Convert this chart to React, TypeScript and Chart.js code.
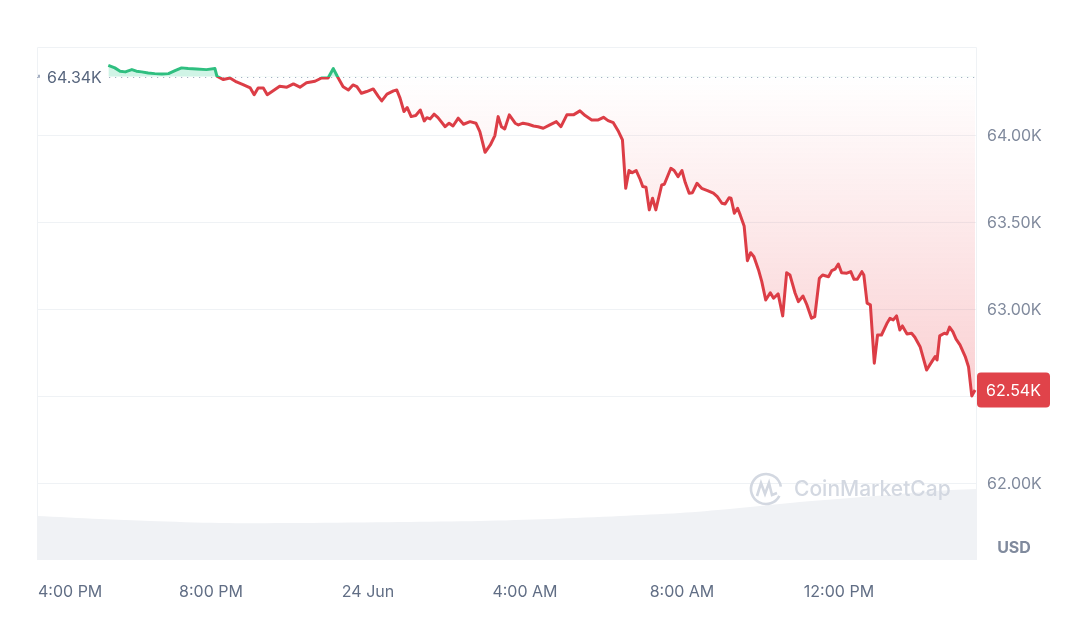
import React, { useEffect, useRef } from "react";
import { Chart, registerables } from "chart.js";

Chart.register(...registerables);

// time = minutes since 23 Jun 00:00 (local); price in USD
const TIMES = [
  1043, 1053, 1061, 1069, 1079, 1086, 1094, 1104, 1114, 1125, 1135, 1145, 1155, 1165, 1178, 1193, 1206, 1209,
  1219, 1229, 1239, 1249, 1260, 1266, 1272, 1280, 1286, 1295, 1305, 1316, 1326, 1336, 1346, 1359, 1369, 1379,
  1387, 1393, 1402, 1410, 1417, 1423, 1430, 1438, 1448, 1456, 1461, 1469, 1479, 1484, 1489, 1495, 1500, 1506,
  1513, 1520, 1526, 1530, 1535, 1541, 1547, 1558, 1564, 1570, 1578, 1586, 1596, 1605, 1611, 1619, 1627, 1634,
  1639, 1644, 1649, 1656, 1665, 1670, 1677, 1685, 1693, 1700, 1708, 1718, 1728, 1735, 1744, 1754, 1764, 1772,
  1782, 1792, 1800, 1807, 1815, 1823, 1829, 1834, 1839, 1844, 1850, 1856, 1860, 1865, 1870, 1875, 1880, 1889,
  1893, 1903, 1908, 1914, 1920, 1925, 1931, 1936, 1943, 1950, 1959, 1968, 1974, 1981, 1986, 1992, 1995, 2000,
  2005, 2009, 2015, 2020, 2025, 2030, 2037, 2042, 2048, 2055, 2060, 2067, 2074, 2080, 2085, 2093, 2098, 2105,
  2111, 2118, 2123, 2130, 2135, 2144, 2149, 2154, 2159, 2164, 2172, 2178, 2183, 2188, 2195, 2198, 2203, 2208,
  2214, 2219, 2225, 2233, 2238, 2243, 2248, 2253, 2257, 2264, 2271, 2276, 2284, 2294, 2302, 2307, 2310, 2314,
  2321, 2325, 2329, 2334, 2339, 2345, 2353, 2358, 2363, 2368,
];

const PRICES = [
  64406, 64391, 64372, 64368, 64381, 64372, 64368, 64362, 64358, 64356, 64358, 64375, 64391, 64387, 64385, 64381, 64387, 64343,
  64324, 64333, 64310, 64295, 64276, 64237, 64276, 64276, 64237, 64260, 64286, 64280, 64299, 64280, 64305, 64314, 64333, 64333,
  64387, 64343, 64283, 64264, 64293, 64283, 64245, 64255, 64270, 64226, 64201, 64240, 64259, 64264, 64217, 64140, 64163, 64111,
  64117, 64149, 64086, 64105, 64098, 64125, 64105, 64053, 64073, 64057, 64102, 64067, 64082, 64073, 64025, 63906, 63948, 64002,
  64111, 64053, 64040, 64121, 64073, 64063, 64073, 64067, 64057, 64053, 64044, 64063, 64082, 64053, 64121, 64121, 64144, 64117,
  64092, 64092, 64107, 64088, 64076, 64025, 63977, 63699, 63801, 63789, 63801, 63751, 63709, 63705, 63575, 63642, 63575, 63718,
  63722, 63814, 63801, 63766, 63801, 63732, 63671, 63674, 63728, 63699, 63686, 63671, 63651, 63613, 63609, 63645, 63642, 63556,
  63584, 63546, 63483, 63283, 63329, 63306, 63230, 63163, 63057, 63099, 63067, 63092, 62966, 63214, 63201, 63096, 63048, 63080,
  63029, 62952, 62962, 63182, 63201, 63191, 63226, 63234, 63264, 63214, 63211, 63220, 63176, 63176, 63220, 63201, 63039, 63029,
  62694, 62856, 62856, 62920, 62952, 62943, 62966, 62885, 62908, 62862, 62866, 62843, 62789, 62655, 62703, 62732, 62713, 62851,
  62866, 62862, 62901, 62875, 62832, 62799, 62732, 62674, 62506, 62540,
];

const VOLUME_TIMES = [934, 1030, 1107, 1214, 1336, 1489, 1611, 1718, 1825, 1917, 1993, 2039, 2100, 2177, 2253, 2330, 2371];
const VOLUMES = [1100, 1025, 975, 925, 925, 950, 975, 1025, 1100, 1175, 1275, 1350, 1450, 1550, 1650, 1750, 1775];

const BASELINE = 64340;
const LAST_PRICE = 62540;
const X_TICKS = [960, 1200, 1440, 1680, 1920, 2160];
const X_TICK_LABELS = ["4:00 PM", "8:00 PM", "24 Jun", "4:00 AM", "8:00 AM", "12:00 PM"];
const Y_TICKS = [62000, 62500, 63000, 63500, 64000];

const X_MIN = 934;
const X_MAX = 2371;
const Y_MIN = 61563;
const Y_MAX = 64511;
const VOL_MAX = 12825;

const GREEN = "#2fbf80";
const RED = "#dc3d46";
const FONT = "Inter, 'Noto Sans', sans-serif";

function yPix(area: any, v: number) {
  return area.top + ((Y_MAX - v) / (Y_MAX - Y_MIN)) * (area.bottom - area.top);
}

function fmtK(v: number) {
  return (v / 1000).toFixed(2) + "K";
}

function roundRect(ctx: CanvasRenderingContext2D, x: number, y: number, w: number, h: number, r: number) {
  ctx.beginPath();
  ctx.moveTo(x + r, y);
  ctx.lineTo(x + w - r, y);
  ctx.quadraticCurveTo(x + w, y, x + w, y + r);
  ctx.lineTo(x + w, y + h - r);
  ctx.quadraticCurveTo(x + w, y + h, x + w - r, y + h);
  ctx.lineTo(x + r, y + h);
  ctx.quadraticCurveTo(x, y + h, x, y + h - r);
  ctx.lineTo(x, y + r);
  ctx.quadraticCurveTo(x, y, x + r, y);
  ctx.closePath();
}

const overlayPlugin = {
  id: "overlay",
  beforeDatasetsDraw(chart: any) {
    const { ctx, chartArea: a, scales } = chart;
    ctx.save();
    ctx.strokeStyle = "#eff2f5";
    ctx.lineWidth = 1;
    ctx.beginPath();
    ctx.moveTo(a.left + 0.5, a.bottom);
    ctx.lineTo(a.left + 0.5, a.top + 0.5);
    ctx.lineTo(a.right - 0.5, a.top + 0.5);
    ctx.lineTo(a.right - 0.5, a.bottom);
    ctx.stroke();
    // dotted baseline
    const yb = Math.round(scales.y.getPixelForValue(BASELINE)) + 0.5;
    ctx.strokeStyle = "#a6b0c3";
    ctx.lineWidth = 1.2;
    ctx.setLineDash([1.2, 4.8]);
    ctx.beginPath();
    ctx.moveTo(a.left, yb);
    ctx.lineTo(a.right, yb);
    ctx.stroke();
    ctx.restore();
  },
  afterDatasetsDraw(chart: any) {
    const { ctx, chartArea: a, scales } = chart;
    ctx.save();
    // watermark
    ctx.strokeStyle = "#d3d8e1";
    ctx.fillStyle = "#d3d8e1";
    ctx.lineWidth = 2.6;
    const cx = 766, cy = 489;
    ctx.beginPath();
    ctx.arc(cx, cy, 15, Math.PI * 0.15, Math.PI * 1.95);
    ctx.stroke();
    ctx.beginPath();
    ctx.moveTo(cx - 9, cy + 7);
    ctx.lineTo(cx - 5, cy - 6);
    ctx.lineTo(cx - 1, cy + 5);
    ctx.lineTo(cx + 3, cy - 6);
    ctx.lineTo(cx + 6, cy + 6);
    ctx.lineTo(cx + 11, cy + 4);
    ctx.stroke();
    ctx.font = `500 21px ${FONT}`;
    ctx.textAlign = "left";
    ctx.textBaseline = "middle";
    ctx.fillText("CoinMarketCap", 794, cy + 1);

    // baseline label
    const yb = scales.y.getPixelForValue(BASELINE);
    ctx.fillStyle = "#ffffff";
    ctx.fillRect(a.left + 3, yb - 10, 68, 20);
    ctx.fillStyle = "#a6b0c3";
    ctx.fillRect(a.left + 1, yb - 2, 2, 3);
    ctx.fillStyle = "#58667e";
    ctx.font = `16px ${FONT}`;
    ctx.textBaseline = "middle";
    ctx.fillText(fmtK(BASELINE), a.left + 10, yb + 1);

    // last price tag
    const yl = scales.y.getPixelForValue(LAST_PRICE);
    ctx.fillStyle = "#e0434a";
    roundRect(ctx, a.right, yl - 17.5, 73, 35, 4);
    ctx.fill();
    ctx.fillStyle = "#ffffff";
    ctx.textAlign = "center";
    ctx.fillText(fmtK(LAST_PRICE), a.right + 36.5, yl + 1);

    // USD
    ctx.fillStyle = "#808a9d";
    ctx.font = `bold 16px ${FONT}`;
    ctx.fillText("USD", 1014, 548);

    // x tick labels
    ctx.font = `16px ${FONT}`;
    ctx.fillStyle = "#616e85";
    ctx.textBaseline = "middle";
    X_TICKS.forEach((t, i) => {
      const px = scales.x.getPixelForValue(t);
      const label = X_TICK_LABELS[i];
      const w = ctx.measureText(label).width;
      let left = px - w / 2;
      if (left < a.left) left = a.left + 1;
      ctx.textAlign = "left";
      ctx.fillText(label, left, 592);
    });
    ctx.restore();
  },
};

export default function App() {
  const ref = useRef<HTMLCanvasElement | null>(null);

  useEffect(() => {
    if (!ref.current) return;
    const priceData = TIMES.map((t, i) => ({ x: t, y: PRICES[i] }));
    const volData = VOLUME_TIMES.map((t, i) => ({ x: t, y: VOLUMES[i] }));

    const chart = new Chart(ref.current, {
      type: "line",
      data: {
        datasets: [
          {
            label: "Price",
            data: priceData,
            yAxisID: "y",
            order: 0,
            borderWidth: 3,
            pointRadius: 0,
            tension: 0,
            borderJoinStyle: "round",
            borderColor: (c: any) => {
              const chart = c.chart;
              const area = chart.chartArea;
              if (!area) return RED;
              const yb = yPix(area, BASELINE);
              const g = chart.ctx.createLinearGradient(0, area.top, 0, area.bottom);
              const s = Math.min(1, Math.max(0, (yb - area.top) / (area.bottom - area.top)));
              g.addColorStop(0, GREEN);
              g.addColorStop(s, GREEN);
              g.addColorStop(s, RED);
              g.addColorStop(1, RED);
              return g;
            },
            fill: (c: any) => {
              const chart = c.chart;
              const area = chart.chartArea;
              if (!area) return { value: BASELINE, above: "rgba(22,199,132,0.2)", below: "rgba(234,57,67,0.08)" };
              const yb = yPix(area, BASELINE);
              const yl = yPix(area, 62500);
              const g = chart.ctx.createLinearGradient(0, yb, 0, yl);
              g.addColorStop(0, "rgba(234,57,67,0.0)");
              g.addColorStop(1, "rgba(234,57,67,0.24)");
              return { value: BASELINE, above: "rgba(22,199,132,0.2)", below: g };
            },
          } as any,
          {
            label: "Volume",
            data: volData,
            yAxisID: "yv",
            order: 1,
            borderWidth: 0,
            pointRadius: 0,
            tension: 0.3,
            fill: "origin",
            backgroundColor: "#f0f2f5",
            borderColor: "rgba(0,0,0,0)",
          } as any,
        ],
      },
      options: {
        animation: false,
        responsive: false,
        devicePixelRatio: 1,
        layout: { padding: { left: 37, top: 47, right: 0, bottom: 0 } },
        plugins: { legend: { display: false }, tooltip: { enabled: false } },
        scales: {
          x: {
            type: "linear",
            min: X_MIN,
            max: X_MAX,
            afterBuildTicks: (s: any) => {
              s.ticks = X_TICKS.map((v) => ({ value: v }));
            },
            afterFit: (s: any) => {
              s.height = 71;
            },
            grid: { display: false },
            border: { display: false },
            ticks: { display: false },
          },
          y: {
            position: "right",
            min: Y_MIN,
            max: Y_MAX,
            afterBuildTicks: (s: any) => {
              s.ticks = Y_TICKS.map((v) => ({ value: v }));
            },
            afterFit: (s: any) => {
              s.width = 103;
            },
            grid: { color: "#eff2f5", drawTicks: false, lineWidth: 1 },
            border: { display: false },
            ticks: {
              padding: 10,
              color: "#808a9d",
              font: { family: FONT, size: 16 },
              callback: (v: any) => (v === 62500 ? "" : fmtK(Number(v))),
            },
          },
          yv: {
            display: false,
            min: 0,
            max: VOL_MAX,
          },
        },
      },
      plugins: [overlayPlugin],
    } as any);

    return () => chart.destroy();
  }, []);

  return (
    <div style={{ position: "absolute", left: 0, top: 0, width: 1080, height: 631, background: "#fff" }}>
      <canvas ref={ref} width={1080} height={631} style={{ width: 1080, height: 631, display: "block" }} />
    </div>
  );
}
